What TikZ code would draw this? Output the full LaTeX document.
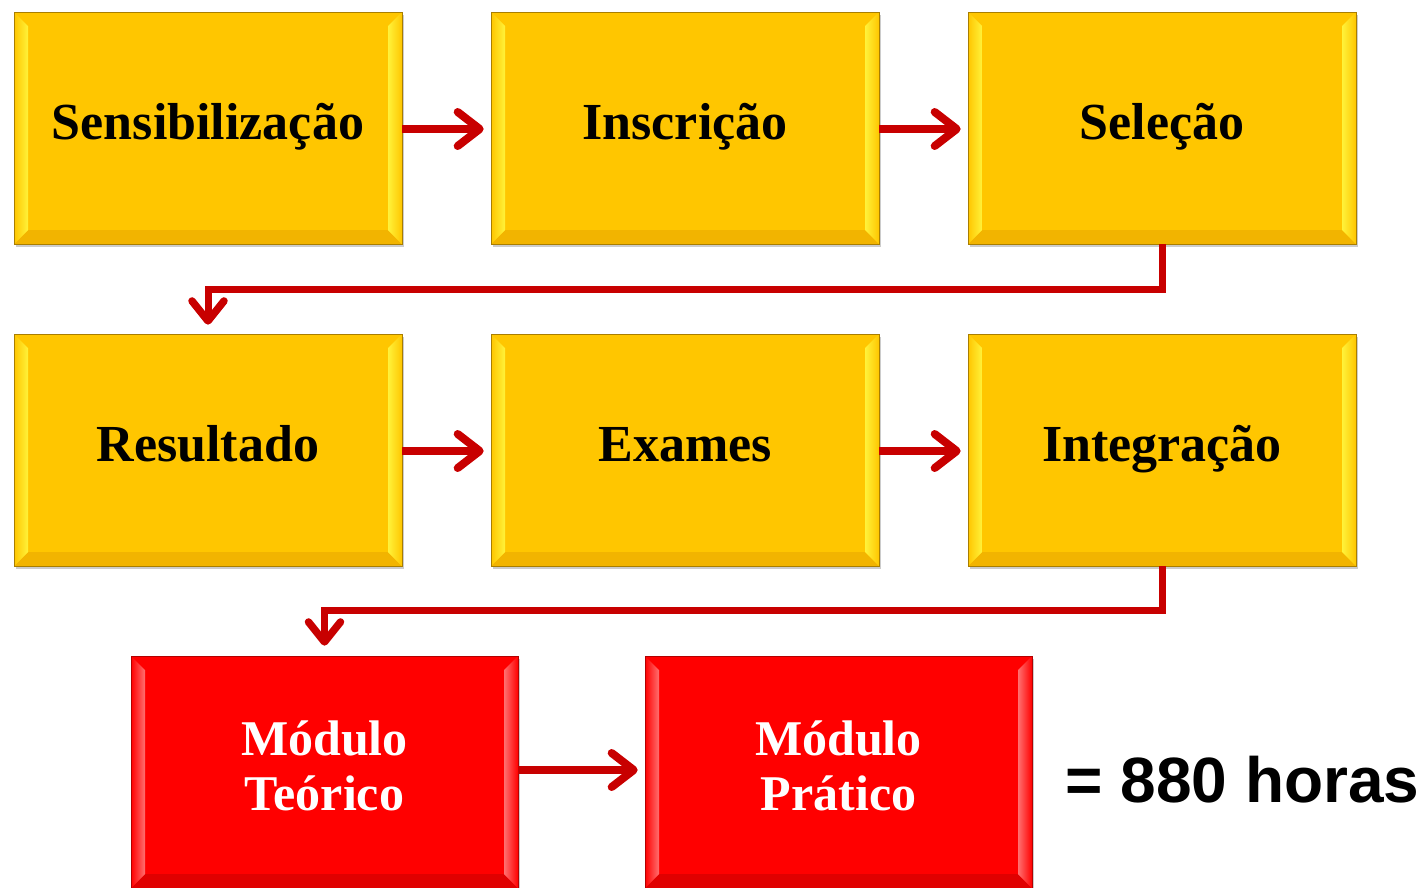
\documentclass[tikz,border=0pt]{standalone}
\usepackage{fontspec}
\setmainfont{Liberation Serif}
\newfontfamily\arialfont{Liberation Sans}
\usetikzlibrary{arrows.meta,calc,shadows}
\definecolor{gold}{HTML}{FFC600}
\definecolor{goldlight}{HTML}{FFF23A}
\definecolor{golddark}{HTML}{F2B400}
\definecolor{boxred}{HTML}{FF0000}
\definecolor{redlight}{HTML}{FF7070}
\definecolor{reddark}{HTML}{E00000}
\definecolor{arrowred}{HTML}{C80000}
\newcommand\drawbevel[5]{%
  \coordinate (bnw) at (path picture bounding box.north west);
  \coordinate (bse) at (path picture bounding box.south east);
  \coordinate (bne) at (bse |- bnw);
  \coordinate (bsw) at (bnw |- bse);
  \coordinate (inw) at ($(bnw)+(14pt,-14pt)$);
  \coordinate (ine) at ($(bne)+(-14pt,-14pt)$);
  \coordinate (isw) at ($(bsw)+(14pt,14pt)$);
  \coordinate (ise) at ($(bse)+(-14pt,14pt)$);
  \fill[#4] (bnw) -- (bne) -- (ine) -- (inw) -- cycle;
  \fill[#5] (bsw) -- (bse) -- (ise) -- (isw) -- cycle;
  \fill[left color=#1, right color=#2] (bnw) -- (inw) -- (isw) -- (bsw) -- cycle;
  \fill[left color=#2, right color=#3] (bne) -- (ine) -- (ise) -- (bse) -- cycle;
}
\tikzset{
  x=1pt, y=-1pt,
  ybox/.style={rectangle, minimum width=388pt, minimum height=232pt, inner sep=0pt,
    fill=gold, draw=golddark!70!black, line width=0.6pt,
    drop shadow={shadow xshift=2pt, shadow yshift=-3pt, opacity=0.4},
    path picture={\drawbevel{gold}{goldlight}{gold}{gold}{golddark}},
    text height=36pt, text depth=14pt,
    font=\fontsize{52}{60}\selectfont\bfseries, text=black},
  rbox/.style={rectangle, minimum width=387pt, minimum height=232pt, inner sep=0pt,
    fill=boxred, draw=reddark!80!black, line width=0.6pt,
    drop shadow={shadow xshift=2pt, shadow yshift=-3pt, opacity=0.4},
    path picture={\drawbevel{boxred}{redlight}{boxred}{boxred}{reddark}},
    font=\fontsize{50}{55}\selectfont\bfseries, text=white},
  harrow/.style={draw=arrowred, line width=7.5pt,
    -{Straight Barb[length=22pt, width=34pt, round, line width=8pt]}},
  elbow/.style={draw=arrowred, line width=7pt,
    -{Straight Barb[length=20pt, width=32pt, round, line width=7.5pt]}},
}
\begin{document}
\begin{tikzpicture}
\useasboundingbox (0,0) rectangle (1421,887);
\node[ybox] (sen) at (208,128) {Sensibilização};
\node[ybox] (ins) at (685,128) {Inscrição};
\node[ybox] (sel) at (1162,128) {Seleção};
\node[ybox] (res) at (208,450) {Resultado};
\node[ybox] (exa) at (685,450) {Exames};
\node[ybox] (int) at (1162,450) {Integração};
\node[rbox] (teo) at (324.5,772) {\raisebox{7pt}{\begin{tabular}{@{}c@{}}Módulo\\Teórico\end{tabular}}};
\node[rbox] (pra) at (838.5,772) {\raisebox{7pt}{\begin{tabular}{@{}c@{}}Módulo\\Prático\end{tabular}}};
\node[anchor=west, font=\arialfont\bfseries\fontsize{64}{70}\selectfont] (tot) at (1062,780) {= 880 horas};

\draw[harrow, shorten >=7pt] ([yshift=-1pt]sen.east) -- ([yshift=-1pt]ins.west);
\draw[harrow, shorten >=7pt] ([yshift=-1pt]ins.east) -- ([yshift=-1pt]sel.west);
\draw[harrow, shorten >=7pt] ([yshift=-1pt]res.east) -- ([yshift=-1pt]exa.west);
\draw[harrow, shorten >=7pt] ([yshift=-1pt]exa.east) -- ([yshift=-1pt]int.west);
\draw[harrow, shorten >=7pt] ([yshift=2pt]teo.east) -- ([yshift=2pt]pra.west);
\draw[elbow] (sel.south) -- ++(0,45) -| ([yshift=9pt]res.north);
\draw[elbow] (int.south) -- ++(0,44) -| ([yshift=10pt]teo.north);
\end{tikzpicture}
\end{document}
